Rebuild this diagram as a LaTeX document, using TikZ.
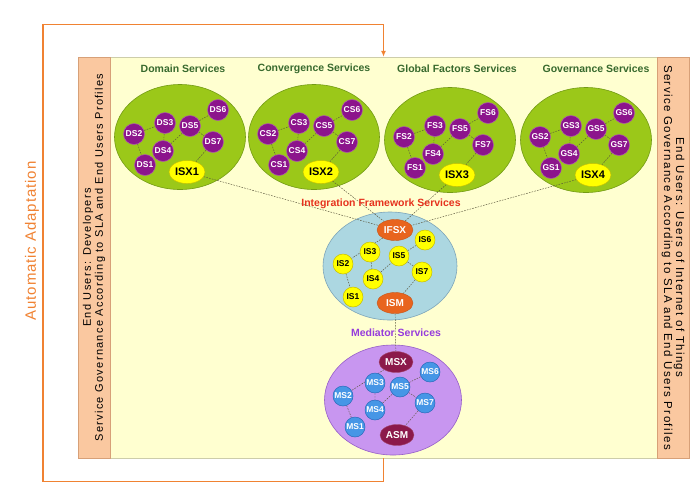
\documentclass[tikz,border=0pt]{standalone}
\usepackage{fontspec}
\setmainfont{Liberation Sans}
\usetikzlibrary{arrows.meta, positioning, shapes.geometric}
\definecolor{panelbg}{RGB}{255,255,208}
\definecolor{panelline}{RGB}{205,205,170}
\definecolor{barfill}{RGB}{250,200,160}
\definecolor{barline}{RGB}{215,160,120}
\definecolor{loopcol}{RGB}{240,130,50}
\definecolor{headgreen}{RGB}{55,105,45}
\definecolor{leafgreen}{RGB}{155,200,25}
\definecolor{leafline}{RGB}{115,155,20}
\definecolor{svcpurple}{RGB}{140,20,140}
\definecolor{isxyellow}{RGB}{255,255,0}
\definecolor{isxline}{RGB}{200,190,0}
\definecolor{skyblue}{RGB}{172,215,225}
\definecolor{skyline}{RGB}{125,165,185}
\definecolor{hubor}{RGB}{232,100,30}
\definecolor{lilac}{RGB}{200,150,240}
\definecolor{lilacline}{RGB}{150,95,200}
\definecolor{wine}{RGB}{140,25,75}
\definecolor{msblue}{RGB}{70,150,230}
\definecolor{msline}{RGB}{40,105,185}
\definecolor{ifred}{RGB}{230,50,30}
\definecolor{medviolet}{RGB}{150,60,220}
\definecolor{wiregray}{RGB}{90,85,60}
\pgfdeclarelayer{back}
\pgfdeclarelayer{wire}
\pgfsetlayers{back,wire,main}

\begin{document}
\begin{tikzpicture}[x=1pt, y=-1pt,
  bar/.style={draw=barline, fill=barfill, inner sep=0pt, minimum width=401pt,
              minimum height=32pt, align=center,
              font=\fontsize{11}{12}\selectfont\addfontfeature{LetterSpace=12}},
  head/.style={text=headgreen, font=\fontsize{10.5}{12}\selectfont\bfseries},
  cloud/.style={ellipse, draw=leafline, fill=leafgreen, line width=0.6pt,
                minimum width=131pt, minimum height=105pt},
  svc/.style={circle, inner sep=0pt, minimum size=21pt, line width=0.5pt,
              font=\fontsize{8.5}{8.5}\selectfont\bfseries},
  dsnode/.style={svc, fill=svcpurple, draw=svcpurple!70!white, text=white},
  isnode/.style={svc, minimum size=20pt, fill=isxyellow, draw=isxline},
  msnode/.style={svc, minimum size=20pt, fill=msblue, draw=msline, text=white},
  hub/.style={ellipse, inner sep=0pt, minimum width=36pt, minimum height=21pt,
              font=\fontsize{10}{10}\selectfont\bfseries},
  isx/.style={hub, minimum height=23pt, fill=isxyellow, draw=isxline,
              font=\fontsize{11}{11}\selectfont\bfseries},
  wire/.style={draw=wiregray, line width=0.45pt, dash pattern=on 1.6pt off 1.2pt},
  adapt/.style={-{Latex[length=6pt, width=5pt]}, draw=loopcol, line width=1.4pt}
]
\useasboundingbox (0,0) rectangle (700,491);

\begin{pgfonlayer}{back}
\node[draw=panelline, fill=panelbg, minimum width=611pt, minimum height=401pt,
      inner sep=0pt] (panel) at (383.5,257.5) {};
\end{pgfonlayer}
\node[bar, rotate=90, anchor=north] (devbar) at (panel.west)
  {End Users: Developers\\Service Governance According to SLA and End Users Profiles};
\node[bar, rotate=-90, anchor=north,
      font=\fontsize{11.5}{12}\selectfont\addfontfeature{LetterSpace=12}] (iotbar) at (panel.east)
  {End Users: Users of Internet of Things\\Service Governance According to SLA and End Users Profiles};

% adaptation loop
\node[rotate=90, text=loopcol, font=\fontsize{15}{17}\selectfont\addfontfeature{LetterSpace=6}]
  (adaptlabel) at (32,241) {Automatic Adaptation};
\draw[adapt] (panel.south) -- ++(0,23) -| ++(-340.5,-457) -| (panel.north);

% service clusters
\foreach \cx/\cy/\hx/\pre/\num/\title in {
    180/137/183/DS/1/Domain Services,
    314/137/314/CS/2/Convergence Services,
    450/140/457/FS/3/Global Factors Services,
    586/140/596/GS/4/Governance Services}{
  \node[head] (title\num) at (\hx,69) {\title};
  \begin{pgfonlayer}{back}
  \node[cloud] (cloud\num) at (\cx,\cy) {};
  \end{pgfonlayer}
  \node[dsnode] (\pre6) at (\cx+38,\cy-27) {\pre6};
  \node[dsnode] (\pre3) at (\cx-15,\cy-14) {\pre3};
  \node[dsnode] (\pre5) at (\cx+10,\cy-11) {\pre5};
  \node[dsnode] (\pre2) at (\cx-46,\cy-3) {\pre2};
  \node[dsnode] (\pre7) at (\cx+33,\cy+5) {\pre7};
  \node[dsnode] (\pre4) at (\cx-17,\cy+14) {\pre4};
  \node[dsnode] (\pre1) at (\cx-35,\cy+28) {\pre1};
  \node[isx] (ISX\num) at (\cx+7,\cy+35) {ISX\num};
  \begin{pgfonlayer}{wire}
  \draw[wire] (\pre2) -- (\pre3) (\pre2) -- (\pre1) (\pre3) -- (\pre4) (\pre4) -- (\pre5)
              (\pre5) -- (\pre6) (\pre5) -- (\pre7) (\pre7) -- (ISX\num);
  \end{pgfonlayer}
}

\begin{pgfonlayer}{back}
\node[cloud, draw=skyline, fill=skyblue, minimum width=134pt, minimum height=108pt]
  (intcloud) at (390,266) {};
\node[cloud, draw=lilacline, fill=lilac, minimum width=137pt, minimum height=110pt]
  (medcloud) at (393,400) {};
\end{pgfonlayer}

% integration framework
\node[hub, fill=hubor, draw=hubor!85!black, text=white] (IFSX) at (395,230) {IFSX};
\node[isnode] (IS6) at (425,240) {IS6};
\node[isnode] (IS3) at (370,252) {IS3};
\node[isnode] (IS5) at (399,256) {IS5};
\node[isnode] (IS2) at (343,264) {IS2};
\node[isnode] (IS7) at (422,272) {IS7};
\node[isnode] (IS4) at (373,279) {IS4};
\node[isnode] (IS1) at (353,297) {IS1};
\node[hub, fill=hubor, draw=hubor!85!black, text=white] (ISM) at (395,303) {ISM};

% mediator
\node[hub, minimum width=34pt, fill=wine, draw=wine!80!white, text=white] (MSX) at (396,362) {MSX};
\node[msnode] (MS6) at (430,372) {MS6};
\node[msnode] (MS3) at (375,383) {MS3};
\node[msnode] (MS5) at (400,387) {MS5};
\node[msnode] (MS2) at (343,396) {MS2};
\node[msnode] (MS7) at (425,403) {MS7};
\node[msnode] (MS4) at (375,410) {MS4};
\node[msnode] (MS1) at (355,427) {MS1};
\node[hub, minimum width=34pt, fill=wine, draw=wine!80!white, text=white] (ASM) at (397,435) {ASM};

\node[text=ifred, font=\fontsize{10.5}{12}\selectfont\bfseries] (iflabel) at (381,204)
  {Integration Framework Services};
\node[text=medviolet, font=\fontsize{10.5}{12}\selectfont\bfseries] (medlabel) at (396,333)
  {Mediator Services};

\begin{pgfonlayer}{wire}
\draw[wire] (IFSX) -- (IS2) (IS2) -- (IS1) (IS3) -- (IS4) (IS4) -- (IS5)
            (IS5) -- (IS6) (IS5) -- (IS7) (IS7) -- (ISM);
\draw[wire] (MSX) -- (MS2) (MS2) -- (MS1) (MS3) -- (MS4) (MS4) -- (MS5)
            (MS5) -- (MS6) (MS5) -- (MS7) (MS7) -- (ASM);
\draw[wire] (ISM) -- (MSX);
\foreach \n in {1,...,4} \draw[wire] (ISX\n) -- (IFSX);
\end{pgfonlayer}
\end{tikzpicture}
\end{document}
